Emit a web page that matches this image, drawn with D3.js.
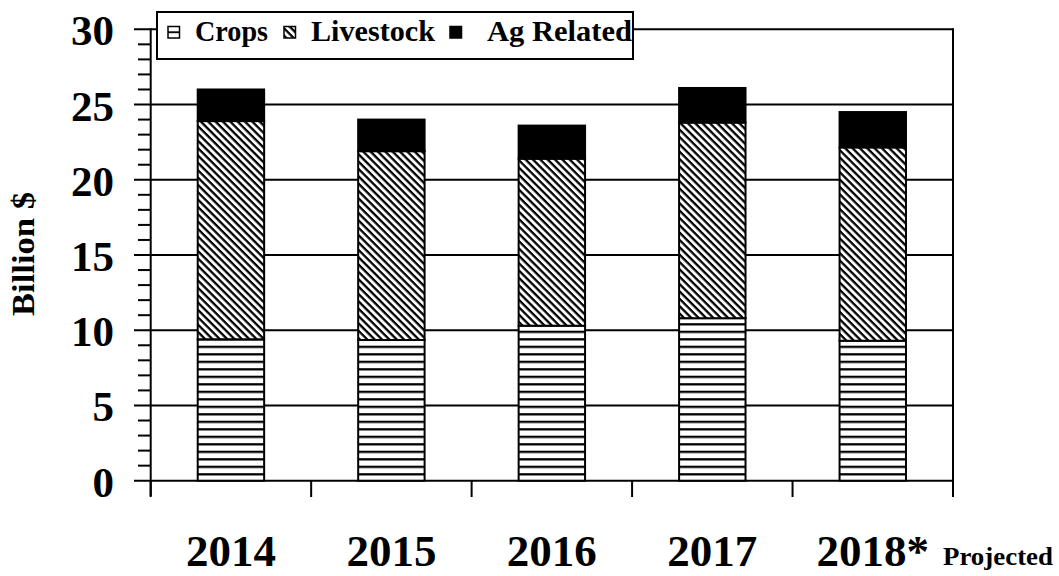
<!DOCTYPE html>
<html>
<head>
<meta charset="utf-8">
<script src="https://cdn.jsdelivr.net/npm/d3@7"></script>
<style>
  html, body { margin: 0; padding: 0; background: #fff; }
  svg { display: block; }
  text { font-family: "Liberation Serif", "Times New Roman", serif; font-weight: bold; fill: #000; }
</style>
</head>
<body>
<svg id="chart" width="1059" height="576"></svg>
<script>
// ---- data ----
const years      = ["2014", "2015", "2016", "2017", "2018*"];
const crops      = [9.4, 9.35, 10.3, 10.8, 9.3];
const livestock  = [14.5, 12.55, 11.1, 13.0, 12.85];
const agRelated  = [2.1, 2.1, 2.2, 2.3, 2.35];
const seriesNames = ["Crops", "Livestock", "Ag Related"];
const yTicks     = [0, 5, 10, 15, 20, 25, 30];
const yMinorTicks = d3.range(0, 31, 1);
const yTitle     = "Billion $";
const noteText   = "Projected";

(function () {
// ---- layout ----
const pLeft = 150.7, pRight = 953, pTop = 29.3, pBottom = 480.7;

const svg = d3.select("#chart");
const defs = svg.append("defs");

// horizontal-line pattern (crops)
const pH = defs.append("pattern").attr("id", "hlines")
  .attr("patternUnits", "userSpaceOnUse").attr("width", 10).attr("height", 7.5)
  .attr("y", pBottom);
pH.append("rect").attr("width", 10).attr("height", 7.5).attr("fill", "#fff");
pH.append("rect").attr("y", 0).attr("width", 10).attr("height", 2.3).attr("fill", "#000");

// diagonal pattern (livestock)
const pD = defs.append("pattern").attr("id", "dlines")
  .attr("patternUnits", "userSpaceOnUse").attr("width", 10).attr("height", 5.2)
  .attr("patternTransform", "rotate(45)");
pD.append("rect").attr("width", 10).attr("height", 5.2).attr("fill", "#fff");
pD.append("rect").attr("width", 10).attr("height", 2.3).attr("fill", "#000");

// legend crops swatch pattern
const pL = defs.append("pattern").attr("id", "hlinesLegend")
  .attr("patternUnits", "objectBoundingBox").attr("patternContentUnits", "objectBoundingBox")
  .attr("width", 1).attr("height", 1);
pL.append("rect").attr("width", 1).attr("height", 1).attr("fill", "#fff");
pL.append("rect").attr("y", 0.42).attr("width", 1).attr("height", 0.16).attr("fill", "#000");

const fills = ["url(#hlines)", "url(#dlines)", "#000"];

const x = d3.scaleBand().domain(years).range([pLeft, pRight])
  .paddingInner(0.586).paddingOuter(0.293);
const y = d3.scaleLinear().domain([0, 30]).range([pBottom, pTop]);

// gridlines (major)
svg.append("g").selectAll("line").data(yTicks).join("line")
  .attr("x1", 134).attr("x2", pRight)
  .attr("y1", d => y(d)).attr("y2", d => y(d))
  .attr("stroke", "#000").attr("stroke-width", 2);

// minor ticks
svg.append("g").selectAll("line").data(yMinorTicks.filter(d => d % 5 !== 0)).join("line")
  .attr("x1", 138).attr("x2", pLeft)
  .attr("y1", d => y(d)).attr("y2", d => y(d))
  .attr("stroke", "#000").attr("stroke-width", 2);

// y axis line
svg.append("line").attr("x1", pLeft).attr("x2", pLeft).attr("y1", pTop - 1).attr("y2", 496)
  .attr("stroke", "#000").attr("stroke-width", 2);

// x category boundary ticks (last one is the right frame)
const tickXs = years.map((d, i) => pLeft + i * x.step()).concat([pRight]);
svg.append("g").selectAll("line").data(tickXs).join("line")
  .attr("x1", d => d).attr("x2", d => d)
  .attr("y1", (d, i) => (i === tickXs.length - 1) ? pTop - 1 : pBottom)
  .attr("y2", 497)
  .attr("stroke", "#000").attr("stroke-width", 2);

// stacked bars
const rows = years.map((yr, i) => ({ year: yr, Crops: crops[i], Livestock: livestock[i], "Ag Related": agRelated[i] }));
const stack = d3.stack().keys(seriesNames)(rows);
svg.append("g").selectAll("g").data(stack).join("g")
  .attr("fill", (d, i) => fills[i])
  .selectAll("rect").data(d => d).join("rect")
  .attr("x", d => x(d.data.year))
  .attr("width", x.bandwidth())
  .attr("y", d => y(d[1]))
  .attr("height", d => y(d[0]) - y(d[1]))
  .attr("stroke", "#000").attr("stroke-width", 2);

// y tick labels
svg.append("g").selectAll("text").data(yTicks).join("text")
  .attr("x", 114).attr("y", d => y(d) + 16)
  .attr("text-anchor", "end").attr("font-size", 43)
  .text(d => d);

// x labels
svg.append("g").selectAll("text").data(years).join("text")
  .attr("x", d => x(d) + x.bandwidth() / 2).attr("y", 566)
  .attr("text-anchor", "middle").attr("font-size", 45)
  .text(d => d);

svg.append("text").attr("x", 943).attr("y", 565).attr("font-size", 26)
  .attr("textLength", 110).attr("lengthAdjust", "spacingAndGlyphs")
  .text(noteText);

// y title
svg.append("text").attr("transform", "translate(34,254) rotate(-90)")
  .attr("text-anchor", "middle").attr("font-size", 31)
  .attr("textLength", 124).attr("lengthAdjust", "spacingAndGlyphs")
  .text(yTitle);

// legend
const lg = svg.append("g");
lg.append("rect").attr("x", 157).attr("y", 12).attr("width", 476).attr("height", 47)
  .attr("fill", "#fff").attr("stroke", "#000").attr("stroke-width", 2);
const legendFills = ["url(#hlinesLegend)", "url(#dlines)", "#000"];
const swX = [168, 284, 450];
const txX = [195, 311, 487];
const txLen = [73, 124, 145];
seriesNames.forEach((s, i) => {
  lg.append("rect").attr("x", swX[i]).attr("y", 26.5).attr("width", 11.5).attr("height", 11.5)
    .attr("fill", legendFills[i]).attr("stroke", "#000").attr("stroke-width", 1.5);
  lg.append("text").attr("x", txX[i]).attr("y", 41).attr("font-size", 29)
    .attr("textLength", txLen[i]).attr("lengthAdjust", "spacingAndGlyphs").text(s);
});
})();
</script>
</body>
</html>
